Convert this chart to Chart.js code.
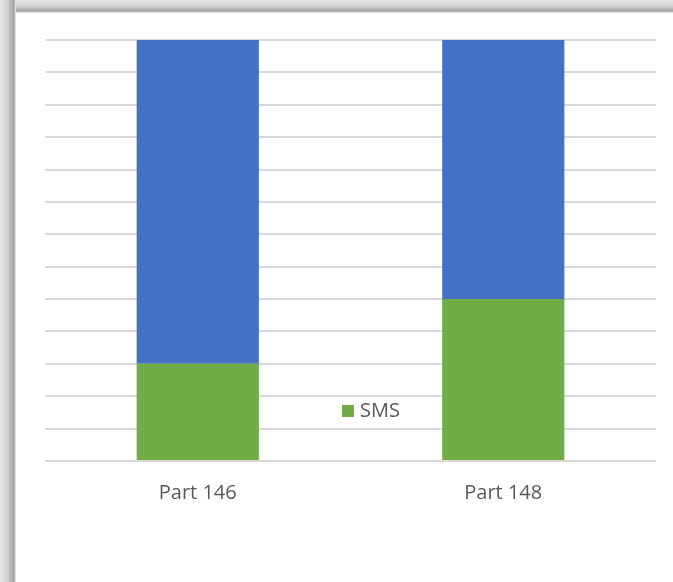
<!DOCTYPE html>
<html>
<head>
<meta charset="utf-8">
<script src="https://cdn.jsdelivr.net/npm/chart.js@4"></script>
<style>
  html, body { margin: 0; padding: 0; background: #fff; }
  body { width: 673px; height: 582px; position: relative; overflow: hidden; }
  #edgeTop {
    position: absolute; left: 0; top: 0; width: 673px; height: 13px;
    background: linear-gradient(to bottom, #e6e6e6 0px, #d2d2d2 6px, #adadad 10px, #a3a3a3 11px, #cccccc 12px, #f0f0f0 13px);
  }
  #edgeLeft {
    position: absolute; left: 0; top: 0; width: 16px; height: 582px;
    background: linear-gradient(to right, #e8e8e8 0px, #d4d4d4 7px, #b0b0b0 12px, #a4a4a4 14px, #cacaca 15px, #f0f0f0 16px);
  }
  #wrap { position: absolute; left: 16px; top: 13px; width: 657px; height: 569px; background: #fff; }
</style>
</head>
<body>
<div id="edgeTop"></div>
<div id="edgeLeft"></div>
<div id="wrap"><canvas id="chart" width="657" height="569"></canvas></div>
<script>
const categories = ["Part 146", "Part 148"];
const smsValues = [3, 5];
const otherValues = [10, 8];

// legend sits inside the plot, like the original
const innerLegend = {
  id: "innerLegend",
  afterDraw(chart) {
    const ctx = chart.ctx;
    const area = chart.chartArea;
    const ds = chart.data.datasets[0];
    const x = area.left + 297;
    const y = area.bottom - 50;
    ctx.save();
    ctx.fillStyle = ds.backgroundColor;
    ctx.fillRect(x, y - 6, 12, 12);
    ctx.fillStyle = "#595959";
    ctx.font = "20px 'Open Sans'";
    ctx.textBaseline = "middle";
    ctx.fillText(ds.label, x + 18, y);
    ctx.restore();
  },
};

const ctx = document.getElementById("chart").getContext("2d");

new Chart(ctx, {
  type: "bar",
  data: {
    labels: categories,
    datasets: [
      {
        label: "SMS",
        data: smsValues,
        backgroundColor: "#70ad47",
      },
      {
        label: "Other",
        data: otherValues,
        backgroundColor: "#4472c4",
      },
    ],
  },
  options: {
    responsive: false,
    animation: false,
    categoryPercentage: 0.4,
    barPercentage: 1,
    layout: {
      padding: { left: 29, right: 17, top: 27, bottom: 57 },
    },
    scales: {
      x: {
        stacked: true,
        grid: { display: false, drawTicks: false },
        border: { display: false },
        ticks: {
          padding: 20,
          color: "#595959",
          font: { family: "'Open Sans'", size: 20 },
        },
      },
      y: {
        stacked: true,
        min: 0,
        max: 13,
        grid: { color: "#d9d9d9", lineWidth: 2, drawTicks: false },
        border: { display: false },
        ticks: { display: false, stepSize: 1 },
      },
    },
    plugins: {
      legend: { display: false },
      tooltip: { enabled: false },
    },
  },
  plugins: [innerLegend],
});
</script>
</body>
</html>
